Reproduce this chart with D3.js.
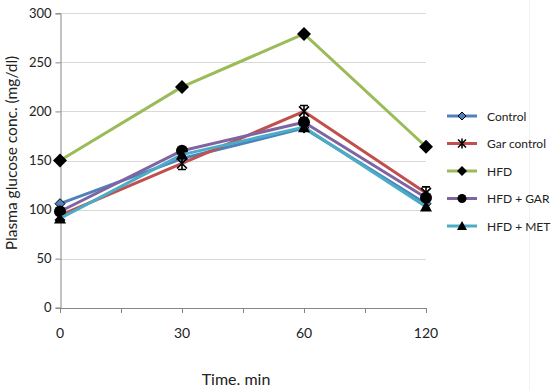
<!DOCTYPE html>
<html><head><meta charset="utf-8">
<script src="https://cdn.jsdelivr.net/npm/d3@7"></script>
<style>body{margin:0;background:#fff}svg{display:block}text{font-family:Lato,"Open Sans",sans-serif;fill:#222}</style>
</head><body>
<script>
const categories = ["0","30","60","120"];
const seriesNames = ["Control","Gar control","HFD","HFD + GAR","HFD + MET"];
const control = [106, 152, 183, 106];
const garControl = [94, 147, 200, 117];
const hfd = [150, 225, 279, 164];
const hfdGar = [98, 160, 189, 112];
const hfdMet = [91, 156, 184, 103];
const yTicks = [0,50,100,150,200,250,300];
const colors = ["#4F81BD","#C0504D","#9BBB59","#8064A2","#4BACC6"];
const markers = ["smalldiamond","star","diamond","circle","triangle"];
const allValues = [control, garControl, hfd, hfdGar, hfdMet];

const W=551,H=390;
const svg=d3.select("body").append("svg").attr("width",W).attr("height",H);
const x=d3.scalePoint().domain(categories).range([60,426]);
const y=d3.scaleLinear().domain([0,300]).range([307.7,13.3]);

// faint right border
svg.append("line").attr("x1",529.5).attr("x2",529.5).attr("y1",0).attr("y2",H).attr("stroke","#f2f2f2");

// gridlines
svg.append("g").selectAll("line").data(yTicks.filter(d=>d>0)).join("line")
 .attr("x1",60).attr("x2",426).attr("y1",d=>Math.round(y(d))+0.5).attr("y2",d=>Math.round(y(d))+0.5)
 .attr("stroke","#d9d9d9").attr("stroke-width",1);

// y axis
const ya=svg.append("g").attr("transform","translate(60.5,0)")
 .call(d3.axisLeft(y).tickValues(yTicks).tickSize(5).tickPadding(4));
ya.select(".domain").attr("stroke","#868686");
ya.selectAll(".tick line").attr("stroke","#868686");
ya.selectAll("text").style("font-size","13px").attr("fill","#222");

// x axis
const xa=svg.append("g").attr("transform","translate(0,308)");
xa.append("line").attr("x1",60).attr("x2",426).attr("y1",0.5).attr("y2",0.5).attr("stroke","#868686");
const step=x.step();
const tickPos=[];
for(let i=0;i<=6;i++) tickPos.push(60+i*step/2);
xa.selectAll("line.t").data(tickPos).join("line").attr("class","t")
 .attr("x1",d=>Math.round(d)+0.5).attr("x2",d=>Math.round(d)+0.5).attr("y1",0).attr("y2",5).attr("stroke","#868686");
xa.selectAll("text").data(categories).join("text")
 .attr("x",d=>x(d)).attr("y",30).attr("text-anchor","middle").style("font-size","14px").text(d=>d);

// titles
svg.append("text").attr("x",236).attr("y",385).attr("text-anchor","middle").style("font-size","16px").text("Time. min");
svg.append("text").attr("transform","translate(17,153) rotate(-90)").attr("text-anchor","middle").style("font-size","15.5px").text("Plasma glucose conc. (mg/dl)");

function drawMarker(g,type,cx,cy,color){
  if(type==="smalldiamond"){
    g.append("path").attr("d",`M${cx},${cy-5}L${cx+5},${cy}L${cx},${cy+5}L${cx-5},${cy}Z`).attr("fill",color).attr("stroke","#000").attr("stroke-width",1);
  } else if(type==="star"){
    g.append("path").attr("d",`M${cx-5},${cy-5}L${cx+5},${cy+5}M${cx+5},${cy-5}L${cx-5},${cy+5}M${cx},${cy-6}L${cx},${cy+6}M${cx-4},${cy-6}L${cx+4},${cy-6}M${cx-4},${cy+6}L${cx+4},${cy+6}`).attr("stroke","#000").attr("stroke-width",1.6).attr("fill","none");
  } else if(type==="diamond"){
    g.append("path").attr("d",`M${cx},${cy-7}L${cx+7},${cy}L${cx},${cy+7}L${cx-7},${cy}Z`).attr("fill","#000");
  } else if(type==="circle"){
    g.append("circle").attr("cx",cx).attr("cy",cy).attr("r",6).attr("fill","#000");
  } else if(type==="triangle"){
    g.append("path").attr("d",`M${cx},${cy-6}L${cx+6},${cy+5}L${cx-6},${cy+5}Z`).attr("fill","#000");
  }
}

const line=d3.line().x((d,i)=>x(categories[i])).y(d=>y(d));
allValues.forEach((vals,si)=>{
  const g=svg.append("g");
  g.append("path").attr("d",line(vals)).attr("fill","none").attr("stroke",colors[si]).attr("stroke-width",3).attr("stroke-linejoin","round");
  vals.forEach((v,i)=>drawMarker(g,markers[si],x(categories[i]),y(v),colors[si]));
});

// legend
const lg=svg.append("g");
seriesNames.forEach((n,i)=>{
  const yy=116+i*27.5;
  const g=lg.append("g");
  g.append("line").attr("x1",447).attr("x2",477).attr("y1",yy).attr("y2",yy).attr("stroke",colors[i]).attr("stroke-width",3);
  const m = markers[i];
  if(m==="diamond") g.append("path").attr("d",`M462,${yy-5}L467,${yy}L462,${yy+5}L457,${yy}Z`).attr("fill","#000");
  else if(m==="circle") g.append("circle").attr("cx",462).attr("cy",yy).attr("r",4.5).attr("fill","#000");
  else if(m==="triangle") g.append("path").attr("d",`M462,${yy-5}L467,${yy+4}L457,${yy+4}Z`).attr("fill","#000");
  else if(m==="star") g.append("path").attr("d",`M458,${yy-4}L466,${yy+4}M466,${yy-4}L458,${yy+4}M462,${yy-5}L462,${yy+5}`).attr("stroke","#000").attr("stroke-width",1.5);
  else g.append("path").attr("d",`M462,${yy-4}L466,${yy}L462,${yy+4}L458,${yy}Z`).attr("fill",colors[i]).attr("stroke","#000");
  g.append("text").attr("x",487).attr("y",yy+4.5).style("font-size","12px").text(n);
});
</script>
</body></html>
